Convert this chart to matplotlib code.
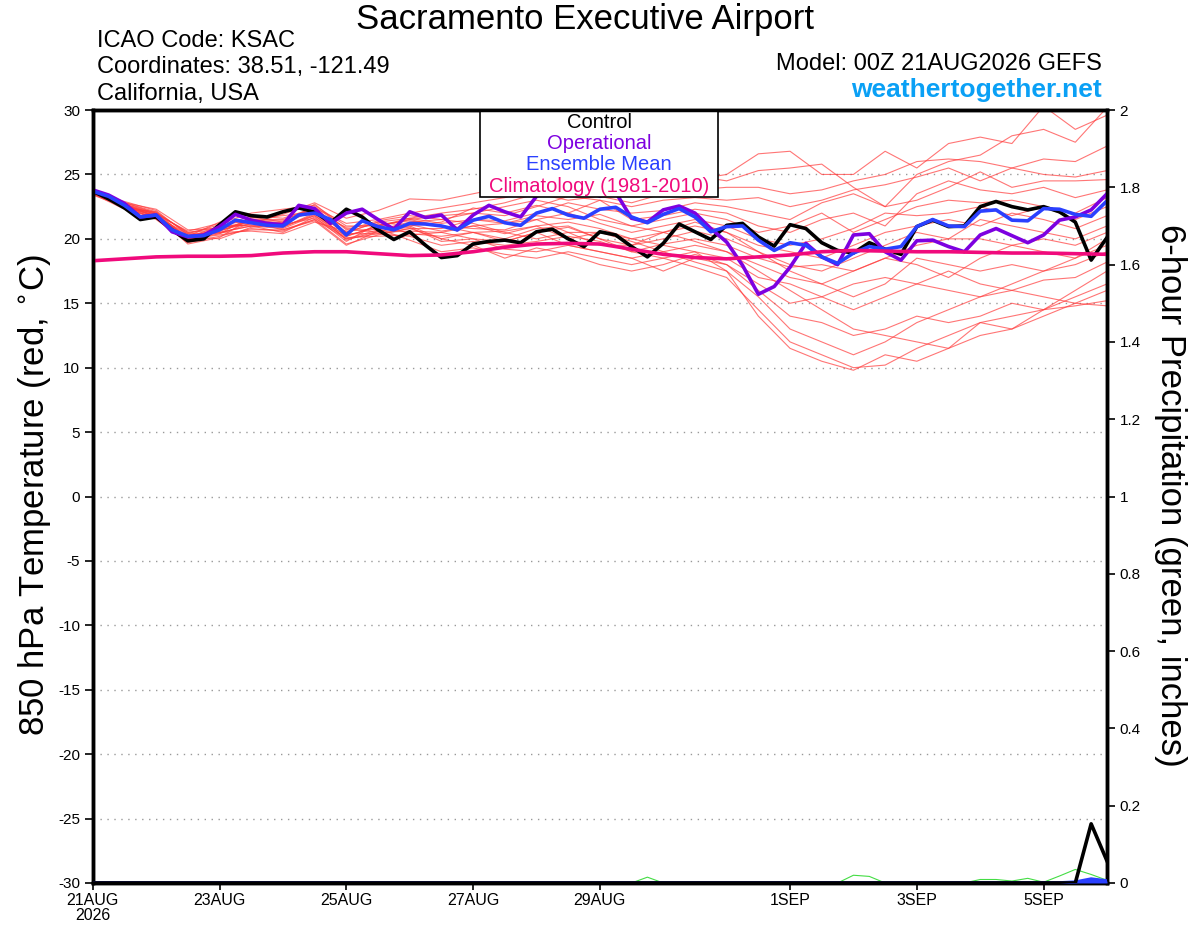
import numpy as np
import matplotlib
matplotlib.use("Agg")
import matplotlib.pyplot as plt
from matplotlib.patches import Rectangle

plt.rcParams['font.family'] = ['Liberation Sans', 'DejaVu Sans']

# ---------- data ----------
hours_6h = np.arange(0, 385, 6)
hours_12h = np.arange(0, 385, 12)

control_t = [23.7, 23.1, 22.4, 21.5, 21.7, 20.7, 19.85, 20.0, 21.1, 22.1, 21.8, 21.7, 22.1,
             22.4, 22.1, 21.25, 22.3, 21.7, 20.7, 19.95, 20.55, 19.5, 18.55, 18.7, 19.6, 19.8,
             19.9, 19.7, 20.55, 20.75, 20.0, 19.4, 20.55, 20.3, 19.4, 18.6, 19.65, 21.15, 20.55,
             19.95, 21.05, 21.2, 20.15, 19.44, 21.1, 20.8, 19.7, 19.1, 18.9, 19.7, 19.2, 18.8,
             20.95, 21.45, 20.95, 21.0, 22.5, 22.9, 22.5, 22.25, 22.5, 22.1, 21.3, 18.35, 20.1]

operational_t = [23.8, 23.4, 22.75, 21.7, 21.85, 20.55, 20.15, 20.3, 20.95, 21.9, 21.45, 21.2, 21.1,
                 22.6, 22.35, 21.2, 22.0, 22.3, 21.5, 20.75, 22.1, 21.65, 21.85, 20.7, 21.85, 22.6,
                 22.1, 21.7, 23.3, 24.0, 24.2, 23.9, 23.3, 23.6, 21.6, 21.3, 22.25, 22.55, 22.0,
                 20.8, 19.75, 17.95, 15.7, 16.3, 17.8, 19.65, 18.6, 18.0, 20.3, 20.4, 19.0, 18.35,
                 19.85, 19.9, 19.4, 19.0, 20.3, 20.8, 20.25, 19.7, 20.3, 21.45, 21.7, 22.25, 23.5]

mean_t = [23.7, 23.3, 22.6, 21.7, 21.85, 20.7, 20.2, 20.25, 20.7, 21.45, 21.25, 21.05, 21.0,
          21.85, 22.0, 21.5, 20.3, 21.4, 20.95, 20.7, 21.2, 21.15, 21.0, 20.7, 21.45, 21.75,
          21.25, 21.05, 22.0, 22.35, 21.85, 21.6, 22.3, 22.45, 21.7, 21.25, 21.9, 22.35, 21.7,
          20.55, 20.95, 21.0, 19.9, 19.1, 19.7, 19.5, 18.6, 18.1, 18.9, 19.4, 19.2, 19.4,
          20.95, 21.5, 21.0, 20.95, 22.15, 22.25, 21.45, 21.4, 22.35, 22.3, 21.9, 21.75, 22.95]

climo_t = [18.3, 18.45, 18.6, 18.65, 18.65, 18.7, 18.9, 19.0, 19.0, 18.85, 18.7, 18.75, 19.0,
           19.35, 19.6, 19.65, 19.6, 19.2, 18.8, 18.55, 18.45, 18.6, 18.75, 19.0, 19.1, 19.05,
           19.0, 19.0, 18.95, 18.9, 18.9, 18.85, 18.8]

# ensemble members, 12-hourly
members_t = [
    [23.6, 22.8, 22.0, 20.5, 20.9, 21.8, 21.6, 22.4, 21.2, 21.5, 22.0, 22.4, 22.8, 23.2, 23.9, 24.3, 24.1,
     23.6, 24.0, 24.6, 25.0, 26.6, 26.8, 25.0, 25.0, 26.8, 25.5, 27.4, 27.9, 27.4, 30.3, 28.5, 29.6],
    [23.5, 22.5, 21.7, 19.9, 20.4, 21.2, 21.9, 22.8, 21.6, 22.2, 23.1, 23.0, 23.5, 24.0, 24.5, 24.2, 24.8,
     25.0, 24.3, 24.9, 24.5, 25.3, 25.5, 25.8, 24.0, 22.5, 25.0, 26.0, 26.5, 28.0, 28.5, 27.5, 30.2],
    [23.8, 22.7, 21.9, 20.6, 21.2, 22.0, 22.3, 22.6, 21.0, 21.0, 21.6, 22.0, 22.3, 22.8, 23.5, 23.0, 23.3,
     22.8, 23.5, 23.8, 24.0, 24.0, 23.5, 23.8, 24.5, 25.0, 26.0, 26.2, 26.0, 25.5, 26.2, 26.0, 27.2],
    [23.7, 22.4, 22.1, 20.0, 20.5, 21.0, 20.8, 21.8, 20.0, 20.7, 21.3, 21.5, 22.0, 21.8, 22.5, 23.3, 23.0,
     22.5, 23.0, 23.2, 23.0, 23.2, 22.5, 23.0, 23.8, 24.2, 24.8, 25.5, 24.5, 25.5, 25.0, 24.8, 25.3],
    [23.6, 22.6, 21.5, 19.7, 20.2, 20.8, 20.6, 21.5, 19.6, 20.3, 20.8, 20.8, 21.5, 21.4, 22.0, 22.8, 22.3,
     22.0, 22.2, 22.8, 22.5, 22.0, 21.5, 22.8, 23.5, 22.5, 23.0, 24.0, 25.2, 24.0, 24.5, 24.5, 24.6],
    [23.4, 22.5, 21.8, 20.1, 21.0, 21.5, 21.2, 22.2, 20.5, 21.3, 21.0, 21.3, 22.4, 22.0, 22.6, 22.0, 23.0,
     21.5, 21.8, 22.3, 22.0, 21.0, 20.5, 21.5, 22.0, 21.0, 23.5, 24.5, 23.8, 23.5, 24.0, 23.2, 23.8],
    [23.7, 22.9, 22.2, 20.3, 20.6, 21.4, 21.4, 22.5, 20.8, 20.5, 20.6, 20.5, 21.0, 21.2, 21.8, 21.5, 21.9,
     21.0, 21.5, 22.0, 21.5, 20.5, 21.0, 22.0, 20.5, 21.5, 22.5, 23.0, 22.8, 23.0, 22.5, 22.0, 23.2],
    [23.5, 22.3, 21.6, 19.8, 20.9, 21.1, 20.9, 21.9, 20.2, 21.0, 21.5, 21.0, 20.8, 20.7, 21.5, 22.0, 21.2,
     20.5, 21.0, 21.5, 21.0, 20.0, 19.5, 20.0, 20.8, 22.0, 21.8, 22.0, 22.5, 21.8, 22.5, 21.5, 22.5],
    [23.8, 22.6, 21.7, 20.4, 21.1, 21.0, 20.5, 21.7, 19.8, 21.2, 20.4, 20.2, 20.5, 20.6, 21.0, 21.3, 20.8,
     20.0, 20.5, 21.0, 20.5, 19.5, 19.0, 18.5, 19.5, 20.5, 21.0, 21.5, 21.0, 22.0, 21.5, 20.8, 21.8],
    [23.6, 22.7, 22.0, 20.0, 20.3, 20.7, 20.7, 21.4, 19.5, 20.6, 20.9, 19.8, 20.0, 19.8, 20.5, 20.9, 20.0,
     19.5, 20.0, 20.6, 20.0, 19.0, 18.0, 17.5, 18.5, 19.5, 20.5, 20.0, 21.5, 21.0, 20.5, 20.0, 21.0],
    [23.7, 22.5, 21.8, 19.6, 20.1, 21.6, 21.8, 22.1, 20.4, 20.4, 20.2, 19.5, 19.8, 19.5, 19.8, 20.2, 19.8,
     19.0, 19.6, 20.0, 19.5, 18.5, 17.8, 18.0, 17.5, 18.5, 19.5, 20.0, 20.0, 19.5, 20.0, 19.5, 20.5],
    [23.5, 22.8, 22.3, 20.7, 20.8, 21.3, 21.0, 22.7, 20.7, 21.4, 21.8, 21.5, 21.2, 20.5, 20.0, 20.5, 19.5,
     19.5, 20.5, 21.3, 20.5, 19.0, 17.5, 16.5, 17.5, 18.5, 18.0, 17.0, 18.5, 19.5, 19.0, 18.5, 20.0],
    [23.6, 22.4, 21.6, 20.2, 20.0, 20.9, 21.1, 21.6, 20.1, 20.2, 20.3, 20.5, 20.0, 19.2, 19.0, 19.5, 19.0,
     18.5, 19.0, 19.5, 19.0, 18.0, 17.0, 16.5, 15.5, 16.5, 18.5, 18.0, 17.5, 18.0, 17.5, 18.0, 19.0],
    [23.8, 22.6, 21.9, 20.0, 20.5, 20.6, 20.4, 21.3, 20.6, 20.8, 19.9, 19.0, 19.3, 18.8, 18.5, 19.0, 18.5,
     18.0, 18.5, 19.0, 18.5, 17.0, 16.5, 15.5, 16.5, 17.0, 16.5, 17.5, 16.5, 16.0, 16.8, 17.0, 18.2],
    [23.7, 22.7, 21.7, 20.3, 20.4, 21.7, 21.3, 22.2, 19.9, 20.6, 21.0, 20.0, 19.5, 18.5, 19.3, 18.8, 18.0,
     17.5, 18.0, 18.8, 18.0, 16.5, 15.0, 15.5, 14.5, 15.5, 16.5, 16.0, 15.5, 16.0, 15.5, 15.0, 14.8],
    [23.5, 22.5, 22.0, 20.5, 20.7, 21.2, 20.9, 22.0, 20.9, 21.1, 21.4, 21.0, 20.5, 19.8, 20.5, 19.5, 19.0,
     18.5, 17.5, 18.5, 18.0, 16.0, 14.0, 13.5, 12.5, 13.0, 14.0, 13.5, 14.0, 15.0, 14.5, 15.5, 16.5],
    [23.6, 22.6, 21.9, 19.9, 20.6, 21.5, 21.5, 22.3, 20.3, 20.8, 21.1, 20.6, 21.0, 20.4, 21.0, 20.0, 20.5,
     19.8, 19.0, 18.2, 17.5, 15.5, 13.0, 12.0, 11.0, 12.0, 13.5, 14.5, 15.5, 16.5, 17.5, 18.5, 19.5],
    [23.7, 22.4, 21.6, 20.2, 21.3, 21.3, 20.7, 21.5, 20.0, 20.4, 20.8, 20.0, 20.5, 20.0, 20.8, 21.0, 20.0,
     19.0, 18.5, 17.8, 17.0, 14.5, 12.0, 11.0, 10.0, 10.2, 11.5, 12.5, 13.5, 14.0, 14.5, 16.0, 17.5],
    [23.6, 22.8, 22.1, 20.4, 20.5, 21.0, 21.3, 22.4, 20.5, 21.3, 21.6, 21.2, 21.5, 21.2, 21.5, 20.5, 20.5,
     20.0, 19.5, 19.0, 17.5, 14.0, 11.5, 10.5, 9.8, 11.0, 10.5, 11.5, 12.5, 13.0, 14.0, 15.0, 16.0],
    [23.5, 22.6, 21.8, 20.1, 20.8, 21.4, 21.0, 21.8, 20.2, 21.0, 21.5, 21.8, 22.0, 22.5, 23.0, 22.5, 21.5,
     21.0, 20.5, 19.8, 19.0, 17.5, 16.0, 14.5, 13.0, 12.5, 12.0, 11.5, 13.5, 13.0, 14.5, 14.8, 15.2],
]

# 6-hour precipitation (inches), 6-hourly
control_p = [0.0] * 62 + [0.0, 0.153, 0.057]
mean_p = [0.0] * 62 + [0.002, 0.010, 0.005]
operational_p = [0.0] * 65
member_p = ([0.0] * 35 + [0.015] + [0.0] * 12 + [0.020, 0.017] + [0.0] * 6
            + [0.009, 0.009, 0.005, 0.012, 0.002, 0.018, 0.035, 0.022, 0.007])

tick_hours = [0, 48, 96, 144, 192, 264, 312, 360]
tick_labels = ['21AUG\n2026', '23AUG', '25AUG', '27AUG', '29AUG', '1SEP', '3SEP', '5SEP']

# ---------- colours ----------
c_member = '#ff3b3b'
c_op = '#7d00e0'
c_mean = '#2a40ff'
c_climo = '#f00a7c'
c_precip = '#44dd44'

fig = plt.figure(figsize=(12, 9.27), dpi=100)
ax = fig.add_axes([0.0773, 0.0475, 0.8452, 0.8338])

for m in members_t:
    ax.plot(hours_12h, m, color=c_member, lw=0.8, alpha=0.7, zorder=2)
ax.plot(hours_6h, control_t, color='black', lw=2.6, zorder=3)
ax.plot(hours_6h, operational_t, color=c_op, lw=2.6, zorder=4)
ax.plot(hours_6h, mean_t, color=c_mean, lw=2.6, zorder=5)
ax.plot(hours_12h, climo_t, color=c_climo, lw=2.6, zorder=6)

ax.set_xlim(0, 384)
ax.set_ylim(-30, 30)
ax.set_yticks(np.arange(-30, 31, 5))
ax.set_yticklabels([str(v) for v in range(-30, 31, 5)])
ax.set_xticks(tick_hours)
ax.set_xticklabels(tick_labels, fontsize=11.5, linespacing=1.0)
for v in range(-25, 30, 5):
    ax.axhline(v, color='#999999', lw=1.0, ls=(0, (1, 4)), zorder=1)
ax.tick_params(axis='y', labelsize=11, length=6, width=1.2, direction='out', pad=3)
ax.tick_params(axis='x', length=5, width=1.2, direction='out', pad=2)
for s in ax.spines.values():
    s.set_linewidth(2.5)

# precipitation axis
ax2 = ax.twinx()
ax2.set_ylim(0, 2)
ax2.set_yticks(np.arange(0, 2.01, 0.2))
ax2.set_yticklabels(['0', '0.2', '0.4', '0.6', '0.8', '1', '1.2', '1.4', '1.6', '1.8', '2'])
ax2.tick_params(axis='y', labelsize=11, length=6, width=1.2, direction='out', pad=3)
ax2.plot(hours_6h, member_p, color=c_precip, lw=0.8, zorder=2)
ax2.plot(hours_6h, operational_p, color=c_op, lw=2.6, zorder=3)
ax2.fill_between(hours_6h, mean_p, color=c_mean, lw=0, zorder=3)
ax2.plot(hours_6h, mean_p, color=c_mean, lw=2.6, zorder=4)
ax2.plot(hours_6h, control_p, color='black', lw=2.6, zorder=5)
for s in ax2.spines.values():
    s.set_linewidth(2.5)

# legend box
lx0, lx1, ly0 = 0.382, 0.6165, 0.8875
ax.add_patch(Rectangle((lx0, ly0), lx1 - lx0, 1.0 - ly0, transform=ax.transAxes,
                       facecolor='white', edgecolor='black', lw=1.2, zorder=10))
leg_items = [('Control', 'black'), ('Operational', c_op),
             ('Ensemble Mean', c_mean), ('Climatology (1981-2010)', c_climo)]
leg_y = [0.9845, 0.9573, 0.930, 0.9017]
for (txt, col), yy in zip(leg_items, leg_y):
    ax.text((lx0 + lx1) / 2, yy, txt, color=col, fontsize=14.5, ha='center', va='center',
            transform=ax.transAxes, zorder=11)

# titles and labels
fig.text(0.4875, 0.979, 'Sacramento Executive Airport', fontsize=25, ha='center', va='center')
fig.text(0.081, 0.956, 'ICAO Code: KSAC', fontsize=17, ha='left', va='center')
fig.text(0.081, 0.928, 'Coordinates: 38.51, -121.49', fontsize=17, ha='left', va='center')
fig.text(0.081, 0.899, 'California, USA', fontsize=17, ha='left', va='center')
fig.text(0.918, 0.931, 'Model: 00Z 21AUG2026 GEFS', fontsize=17, ha='right', va='center')
fig.text(0.918, 0.903, 'weathertogether.net', fontsize=19, ha='right', va='center',
         color='#0aa0f5', fontweight='bold')
fig.text(0.029, 0.466, '850 hPa Temperature (red, $^{\\circ}$C)', fontsize=25, rotation=90,
         ha='center', va='center')
fig.text(0.975, 0.466, '6-hour Precipitation (green, inches)', fontsize=25, rotation=270,
         ha='center', va='center')

fig.savefig('out.png', dpi=100)
